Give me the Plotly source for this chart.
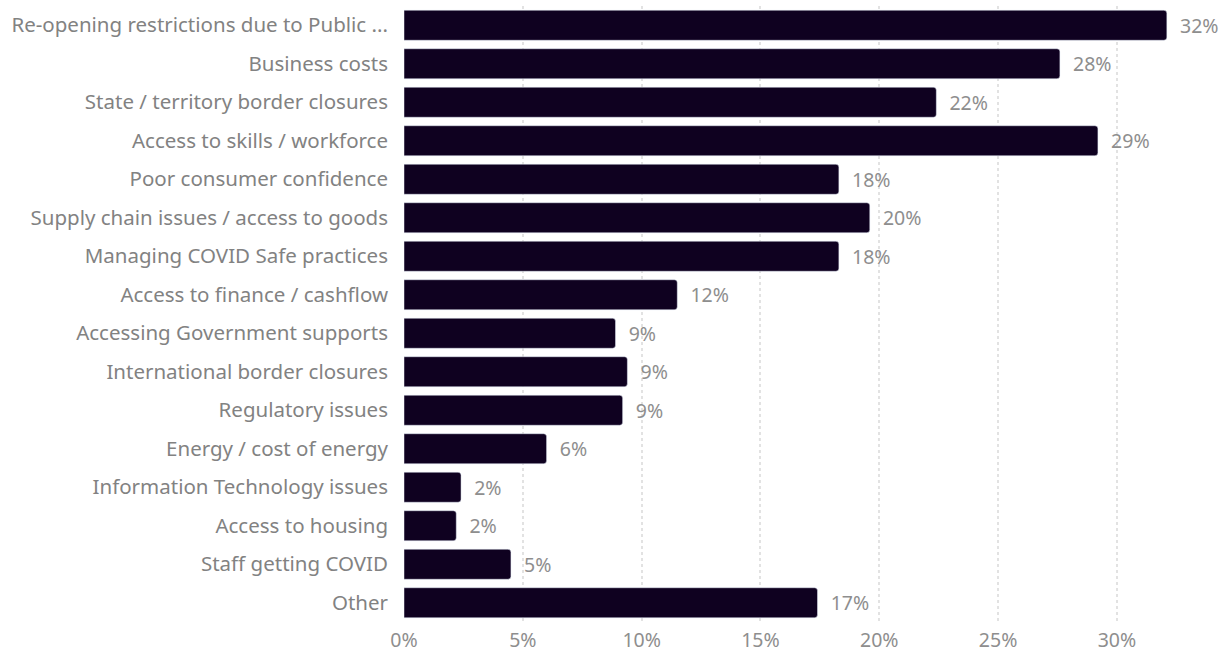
import plotly.graph_objects as go

categories = [
    "Re-opening restrictions due to Public ...",
    "Business costs",
    "State / territory border closures",
    "Access to skills / workforce",
    "Poor consumer confidence",
    "Supply chain issues / access to goods",
    "Managing COVID Safe practices",
    "Access to finance / cashflow",
    "Accessing Government supports",
    "International border closures",
    "Regulatory issues",
    "Energy / cost of energy",
    "Information Technology issues",
    "Access to housing",
    "Staff getting COVID",
    "Other",
]
share_pct = [32.1, 27.6, 22.4, 29.2, 18.3, 19.6, 18.3, 11.5,
             8.9, 9.4, 9.2, 6.0, 2.4, 2.2, 4.5, 17.4]
tick_vals = [0, 5, 10, 15, 20, 25, 30]
tick_text = ["0%", "5%", "10%", "15%", "20%", "25%", "30%"]

font_family = "Noto Sans"
grey = "#8e8e8e"

fig = go.Figure(
    go.Bar(
        x=share_pct,
        y=categories,
        orientation="h",
        marker=dict(color="#0f0120", cornerradius=3),
        text=share_pct,
        texttemplate="\u00a0\u00a0%{x:.0f}%",
        textposition="outside",
        textfont=dict(family=font_family, size=19.5, color=grey),
        cliponaxis=False,
        hoverinfo="skip",
    )
)

fig.update_layout(
    width=1226,
    height=657,
    margin=dict(l=404, r=14, t=6, b=35, autoexpand=False),
    paper_bgcolor="white",
    plot_bgcolor="white",
    bargap=0.22,
    showlegend=False,
    font=dict(family=font_family, size=19.5, color=grey),
)
fig.update_xaxes(
    range=[0, 34],
    tickvals=tick_vals,
    ticktext=tick_text,
    showgrid=True,
    gridcolor="#e2e2e2",
    griddash="dot",
    gridwidth=1.5,
    zeroline=False,
    showline=False,
    ticks="",
    ticklabelstandoff=4,
    tickfont=dict(family=font_family, size=19.5, color=grey),
)
fig.update_yaxes(
    autorange="reversed",
    showgrid=False,
    zeroline=False,
    showline=False,
    ticks="",
    ticklabelstandoff=15,
    tickfont=dict(family=font_family, size=20.5, color="#828282"),
)

fig.write_html("out.html")
